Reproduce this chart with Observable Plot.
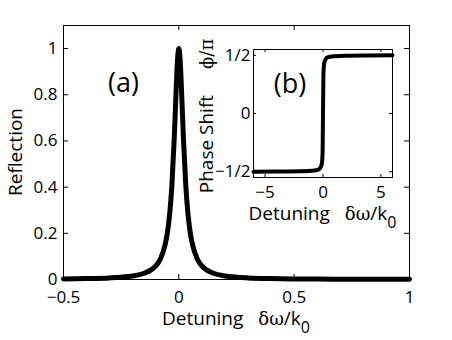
<!DOCTYPE html>
<html>
<head>
<meta charset="utf-8">
<script src="https://cdn.jsdelivr.net/npm/d3@7"></script>
<script src="https://cdn.jsdelivr.net/npm/@observablehq/plot@0.6"></script>
<style>
  body { margin: 0; background: white; }
  #wrap { position: relative; width: 452px; height: 340px; overflow: hidden; }
</style>
</head>
<body>
<div id="wrap"></div>
<script>
// ---- data ----
const reflX = [-0.5, -0.4, -0.3, -0.25, -0.2, -0.15, -0.12, -0.1, -0.08, -0.06, -0.05, -0.04, -0.03, -0.02, -0.015, -0.01, -0.005, 0,
               0.005, 0.01, 0.015, 0.02, 0.03, 0.04, 0.05, 0.06, 0.08, 0.1, 0.12, 0.15, 0.2, 0.25, 0.3, 0.4, 0.5, 0.6, 0.7, 0.8, 0.9, 1.0];
const reflR = [0.0025, 0.0039, 0.0069, 0.0099, 0.0154, 0.027, 0.0416, 0.0588, 0.0889, 0.148, 0.2, 0.281, 0.41, 0.61, 0.735, 0.862, 0.962, 1.0,
               0.962, 0.862, 0.735, 0.61, 0.41, 0.281, 0.2, 0.148, 0.0889, 0.0588, 0.0416, 0.027, 0.0154, 0.0099, 0.0069, 0.0039, 0.0025, 0.0017, 0.0013, 0.001, 0.0008, 0.0006];

const phaseX = [-6, -4, -2, -1, -0.6, -0.4, -0.25, -0.15, -0.1, -0.06, -0.03, 0, 0.03, 0.06, 0.1, 0.15, 0.25, 0.4, 0.6, 1, 2, 4, 6];
const phaseY = [-0.5, -0.499, -0.497, -0.493, -0.488, -0.482, -0.47, -0.45, -0.43, -0.39, -0.3, 0, 0.3, 0.39, 0.43, 0.45, 0.47, 0.482, 0.488, 0.493, 0.497, 0.499, 0.5];

const mainXTicks = [-0.5, 0, 0.5, 1];
const mainYTicks = [0, 0.2, 0.4, 0.6, 0.8, 1];
const mainYTickLabels = ["0", "0.2", "0.4", "0.6", "0.8", "1"];
const insetXTicks = [-5, 0, 5];
const insetYTicks = [-0.5, 0, 0.5];
const insetYTickLabels = ["−1/2", "0", "1/2"];

const FONT = "Open Sans";
const GREEK = "DejaVu Serif";

// ---- main chart ----
const W = 452, H = 340;
const mL = 63, mR = 43, mT = 25, mB = 61;
const innerW = W - mL - mR, innerH = H - mT - mB;

const reflData = reflX.map((x, i) => ({x, r: reflR[i]}));

const main = Plot.plot({
  width: W, height: H,
  marginLeft: mL, marginRight: mR, marginTop: mT, marginBottom: mB,
  x: {domain: [-0.5, 1]},
  y: {domain: [0, 1.1]},
  style: {fontFamily: FONT, fontSize: "17px", background: "white", color: "black"},
  marks: [
    Plot.line(reflData, {x: "x", y: "r", stroke: "black", strokeWidth: 5, curve: "monotone-x", strokeLinejoin: "round", strokeLinecap: "round"}),
    Plot.frame({stroke: "black", strokeWidth: 1}),
    Plot.tickX(mainXTicks, {x: d => d, insetTop: innerH - 5, stroke: "black"}),
    Plot.tickX(mainXTicks, {x: d => d, insetBottom: innerH - 5, stroke: "black"}),
    Plot.tickY(mainYTicks, {y: d => d, insetRight: innerW - 5, stroke: "black"}),
    Plot.tickY(mainYTicks, {y: d => d, insetLeft: innerW - 5, stroke: "black"}),
    Plot.axisX({ticks: mainXTicks, tickSize: 0, tickPadding: 11, label: null,
      tickFormat: d => (d < 0 ? "−" : "") + Math.abs(d)}),
    Plot.axisY({ticks: mainYTicks, tickSize: 0, tickPadding: 6, label: null,
      tickFormat: d => mainYTickLabels[mainYTicks.indexOf(d)]}),
    Plot.text(["(a)"], {x: -0.24, y: 0.85, text: d => d, fontSize: 27, fontFamily: FONT, fill: "black"})
  ]
});

function detuningLabel(svg, x, y) {
  const t = d3.select(svg).append("text")
    .attr("transform", `translate(${x},${y})`)
    .attr("text-anchor", "middle")
    .attr("font-family", FONT)
    .attr("font-size", 19)
    .attr("fill", "black");
  t.append("tspan").text("Detuning");
  t.append("tspan").attr("dx", 15).attr("font-family", GREEK).attr("font-size", 18).text("δω");
  t.append("tspan").text("/k");
  t.append("tspan").attr("dy", 8).attr("font-size", 16).text("0");
}

detuningLabel(main, mL + innerW / 2, 325);
d3.select(main).append("text")
  .attr("transform", `translate(22,${mT + innerH / 2}) rotate(-90)`)
  .attr("text-anchor", "middle")
  .attr("font-family", FONT)
  .attr("font-size", 19)
  .attr("fill", "black")
  .text("Reflection");

document.getElementById("wrap").appendChild(main);

// ---- inset chart ----
const iL = 65, iR = 10, iT = 22, iB = 62;
const iInnerW = 139, iInnerH = 128;
const iW = iL + iInnerW + iR, iH = iT + iInnerH + iB;
const phaseData = phaseX.map((x, i) => ({x, p: phaseY[i]}));

const inset = Plot.plot({
  width: iW, height: iH,
  marginLeft: iL, marginRight: iR, marginTop: iT, marginBottom: iB,
  x: {domain: [-6, 6]},
  y: {domain: [-0.55, 0.55]},
  style: {fontFamily: FONT, fontSize: "17px", background: "transparent", color: "black", overflow: "visible",
          position: "absolute", left: (253 - iL) + "px", top: (49 - iT) + "px"},
  marks: [
    Plot.frame({fill: "white"}),
    Plot.line(phaseData, {x: "x", y: "p", stroke: "black", strokeWidth: 4, curve: "monotone-x", strokeLinejoin: "round"}),
    Plot.frame({stroke: "black", strokeWidth: 1}),
    Plot.tickX(insetXTicks, {x: d => d, insetTop: iInnerH - 3, stroke: "black"}),
    Plot.tickX(insetXTicks, {x: d => d, insetBottom: iInnerH - 3, stroke: "black"}),
    Plot.tickY(insetYTicks, {y: d => d, insetRight: iInnerW - 3, stroke: "black"}),
    Plot.tickY(insetYTicks, {y: d => d, insetLeft: iInnerW - 3, stroke: "black"}),
    Plot.axisX({ticks: insetXTicks, tickSize: 0, tickPadding: 8, label: null,
      tickFormat: d => (d < 0 ? "−" : "") + Math.abs(d)}),
    Plot.axisY({ticks: insetYTicks, tickSize: 0, tickPadding: 3, label: null,
      tickFormat: d => insetYTickLabels[insetYTicks.indexOf(d)]}),
    Plot.text(["(b)"], {x: -2.85, y: 0.25, text: d => d, fontSize: 27, fontFamily: FONT, fill: "black"})
  ]
});

detuningLabel(inset, iL + iInnerW / 2, iT + iInnerH + 43);
{
  const t = d3.select(inset).append("text")
    .attr("transform", `translate(25,${iT + iInnerH / 2 + 3}) rotate(-90)`)
    .attr("text-anchor", "middle")
    .attr("font-family", FONT)
    .attr("font-size", 19)
    .attr("fill", "black");
  t.append("tspan").text("Phase Shift");
  t.append("tspan").attr("dx", 26).attr("font-family", GREEK).attr("font-size", 18).text("ϕ/π");
}

document.getElementById("wrap").appendChild(inset);
</script>
</body>
</html>
